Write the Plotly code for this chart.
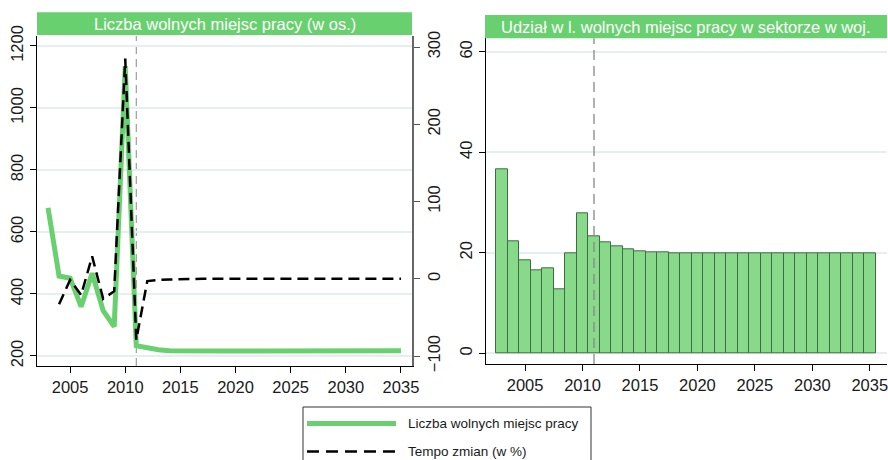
import plotly.graph_objects as go

# dane
lata = list(range(2003, 2036))
liczba_miejsc = [678, 458, 451, 359, 467, 346, 295, 1135, 233, 226, 220, 217,
                 216, 216, 216, 216, 216, 216, 216, 216, 216, 216, 216, 216,
                 217, 218, 218, 218, 218, 218, 218, 218, 217]
tempo_zmian = [None, -33, -1.5, -21, 29, -26, -16, 285, -79, -3, -1.5, -1,
               -0.5, -0.3, 0, 0, 0, 0, 0, 0, 0, 0, 0, 0,
               0.3, 0.3, 0, 0, 0, 0, 0, 0, 0]
udzial = [36.6, 22.2, 18.6, 16.5, 17.0, 12.8, 19.9, 27.9, 23.3, 22.1, 21.2,
          20.7, 20.4, 20.2, 20.1, 20.0, 20.0, 20.0, 20.0, 20.0, 20.0, 20.0,
          20.0, 20.0, 20.0, 20.0, 20.0, 20.0, 20.0, 20.0, 20.0, 20.0, 20.0]
rok_prognozy = 2011

W, H = 888, 460
def px(x):
    return x / W
def py(y):
    return (H - y) / H

zielony = "#69d06f"
czcionka = "Liberation Sans, Arial, sans-serif"
font_ticks = dict(family=czcionka, size=16.5, color="#1a1a1a")

fig = go.Figure()

fig.add_trace(go.Scatter(x=lata, y=liczba_miejsc, mode="lines", name="Liczba wolnych miejsc pracy",
                         line=dict(color=zielony, width=5), xaxis="x", yaxis="y"))
fig.add_trace(go.Scatter(x=lata, y=tempo_zmian, mode="lines", name="Tempo zmian (w %)",
                         line=dict(color="black", width=2.5, dash="11px,6px"), xaxis="x", yaxis="y2"))
fig.add_trace(go.Bar(x=lata, y=udzial, width=1, marker=dict(color="#88d98a", line=dict(color="#3c6e46", width=1)),
                     xaxis="x2", yaxis="y3", showlegend=False))

# panele
fig.update_layout(
    width=W, height=H,
    margin=dict(l=0, r=0, t=0, b=0),
    paper_bgcolor="white", plot_bgcolor="white",
    showlegend=False,
    bargap=0,
    xaxis=dict(domain=[px(37), px(412)], range=[2002, 2036], anchor="y", automargin=False,
               tickvals=[2005, 2010, 2015, 2020, 2025, 2030, 2035],
               ticks="outside", ticklen=6, tickcolor="black", showgrid=False,
               showline=True, linecolor="black", linewidth=1, zeroline=False, tickfont=font_ticks),
    yaxis=dict(domain=[py(366), py(36)], range=[167.7, 1232.2], anchor="x", automargin=False,
               tickvals=[200, 400, 600, 800, 1000, 1200], tickangle=-90,
               ticks="outside", ticklen=6, tickcolor="black",
               showgrid=True, gridcolor="#e6eef0", gridwidth=1.5,
               showline=True, linecolor="black", linewidth=1, zeroline=False, tickfont=font_ticks),
    yaxis2=dict(overlaying="y", side="right", anchor="x", range=[-112.9, 314.3], automargin=False,
                tickvals=[-100, 0, 100, 200, 300], tickangle=-90,
                ticks="outside", ticklen=6, tickcolor="#555",
                showgrid=False, showline=True, linecolor="#666", linewidth=1.5,
                zeroline=False, tickfont=font_ticks),
    xaxis2=dict(domain=[px(486), px(887)], range=[2001.6, 2036.5], anchor="y3", automargin=False,
                tickvals=[2005, 2010, 2015, 2020, 2025, 2030, 2035], ticklabeloverflow="allow",
                ticks="outside", ticklen=6, tickcolor="black", showgrid=False,
                showline=True, linecolor="black", linewidth=1, zeroline=False, tickfont=font_ticks),
    yaxis3=dict(domain=[py(364), py(38.3)], range=[-2.13, 62.7], anchor="x2", automargin=False,
                tickvals=[0, 20, 40, 60], tickangle=-90,
                ticks="outside", ticklen=6, tickcolor="black",
                showgrid=True, gridcolor="#e6eef0", gridwidth=1.5,
                showline=True, linecolor="black", linewidth=1, zeroline=False, tickfont=font_ticks),
)

# linia roku prognozy
fig.add_shape(type="line", xref="x", yref="y domain", x0=rok_prognozy, x1=rok_prognozy, y0=0, y1=1,
              line=dict(color="#888", width=1, dash="8px,5px"), layer="below")
fig.add_shape(type="line", xref="x2", yref="y3 domain", x0=rok_prognozy, x1=rok_prognozy, y0=0, y1=1,
              line=dict(color="#888", width=1.3, dash="10px,6px"), layer="above")

# paski tytułów
tytuly = [("Liczba wolnych miejsc pracy (w os.)", 37, 412, 12.3, 35),
          ("Udział w l. wolnych miejsc pracy w sektorze w woj.", 485, 887, 15, 38.3)]
for tekst, x0, x1, y0, y1 in tytuly:
    fig.add_shape(type="rect", xref="paper", yref="paper", x0=px(x0), x1=px(x1), y0=py(y1), y1=py(y0),
                  fillcolor=zielony, line=dict(width=0))
    fig.add_annotation(xref="paper", yref="paper", x=px((x0 + x1) / 2), y=py((y0 + y1) / 2),
                       text=tekst, showarrow=False, xanchor="center", yanchor="middle",
                       font=dict(family=czcionka, size=16.5, color="white"))

# legenda
fig.add_shape(type="rect", xref="paper", yref="paper", x0=px(303), x1=px(591), y0=py(475), y1=py(407),
              line=dict(color="#333", width=1), fillcolor="white")
fig.add_shape(type="line", xref="paper", yref="paper", x0=px(307), x1=px(396), y0=py(423.5), y1=py(423.5),
              line=dict(color=zielony, width=5))
fig.add_shape(type="line", xref="paper", yref="paper", x0=px(307), x1=px(396), y0=py(451.5), y1=py(451.5),
              line=dict(color="black", width=2.5, dash="12px,7px"))
for tekst, y in [("Liczba wolnych miejsc pracy", 423.5), ("Tempo zmian (w %)", 451.5)]:
    fig.add_annotation(xref="paper", yref="paper", x=px(406), y=py(y), text=tekst, showarrow=False,
                       xanchor="left", yanchor="middle",
                       font=dict(family=czcionka, size=13.5, color="#1a1a1a"))

# bez marginesu strony, żeby wykres zajął całe okno
fig.write_html("out.html", config={"displayModeBar": False},
               post_script="document.body.style.margin = '0'; document.body.style.overflow = 'hidden';")
